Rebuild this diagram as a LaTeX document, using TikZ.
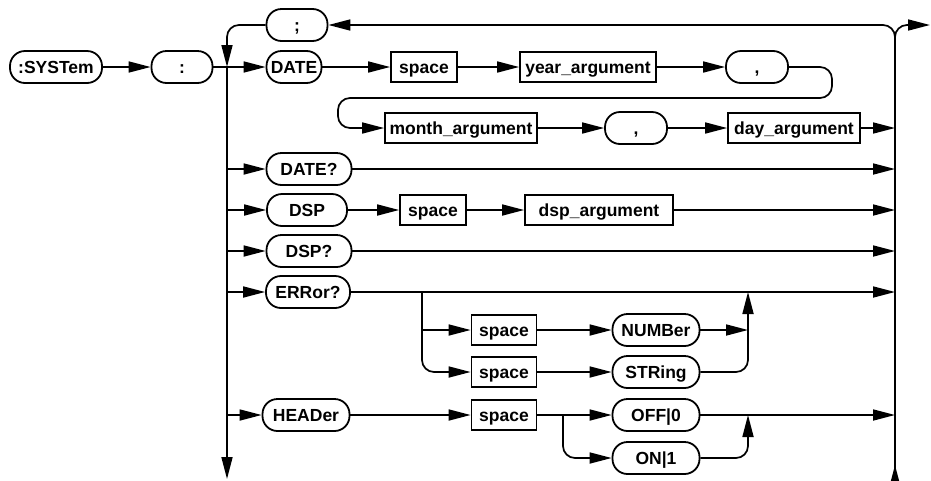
\documentclass[tikz,border=0pt]{standalone}
\usepackage{fontspec}
\setmainfont{Liberation Sans}
\usetikzlibrary{arrows.meta}
\begin{document}
\begin{tikzpicture}[x=1pt,y=-1pt,
  every node/.style={font=\bfseries\fontsize{17.5}{20}\selectfont, inner sep=0pt,
    text height=12.5pt, text depth=0pt},
  kw/.style={draw, line width=1.8pt, rounded corners=15pt, minimum height=32pt},
  arg/.style={draw, line width=1.8pt, minimum height=30pt},
  flow/.style={line width=1.7pt},
  go/.style={flow, -{Triangle[length=22pt,width=11pt]}},
  curvy/.style={rounded corners=12pt}]
\useasboundingbox (0,0) rectangle (931,480);

% bus lines and junctions
\coordinate (lbtop) at (227,67);
\coordinate (lbbot) at (227,479);
\coordinate (rbtop) at (895,25);
\coordinate (rbbot) at (895,480);
\coordinate (rbexit) at (930,25);
\coordinate (loopR) at (832,98);
\coordinate (loopL) at (338,128);
\coordinate (eb) at (422,292);
\coordinate (ej) at (748,292);
\coordinate (hb) at (563,415);
\coordinate (hj) at (748,415);

% keywords and arguments
\node[kw, minimum width=92pt] (sys) at (56,67) {:SYSTem};
\node[kw, minimum width=61pt] (colon) at (182,67) {:};
\node[kw, minimum width=61pt] (semi) at (297,25) {;};
\node[kw, minimum width=55pt] (date) at (294,67) {DATE};
\node[arg, minimum width=66pt] (sp1) at (424,67) {space};
\node[arg, minimum width=136pt] (year) at (588,67) {year\_argument};
\node[kw, minimum width=62pt] (comma1) at (757,67) {,};
\node[arg, minimum width=152pt] (month) at (461,128) {month\_argument};
\node[kw, minimum width=62pt] (comma2) at (636,128) {,};
\node[arg, minimum width=132pt] (day) at (794,128) {day\_argument};
\node[kw, minimum width=85pt] (dateq) at (309,169) {DATE?};
\node[kw, minimum width=80pt] (dsp) at (307,210) {DSP};
\node[arg, minimum width=66pt] (sp2) at (433,210) {space};
\node[arg, minimum width=148pt] (dsparg) at (599,210) {dsp\_argument};
\node[kw, minimum width=85pt] (dspq) at (309,251) {DSP?};
\node[kw, minimum width=84pt] (err) at (308,292) {ERRor?};
\node[arg, minimum width=65pt] (sp3) at (504,330) {space};
\node[kw, minimum width=87pt] (number) at (656,330) {NUMBer};
\node[arg, minimum width=65pt] (sp4) at (504,372) {space};
\node[kw, minimum width=87pt] (string) at (656,372) {STRing};
\node[kw, minimum width=87pt] (header) at (306,415) {HEADer};
\node[arg, minimum width=65pt] (sp5) at (504,415) {space};
\node[kw, minimum width=87pt] (off) at (656,415) {OFF|0};
\node[kw, minimum width=87pt] (on) at (656,458) {ON|1};

% left bus
\draw[go, curvy] (semi.west) -| (lbtop);
\draw[go] (lbtop) -- (lbbot);

% right bus, loop back and exit
\draw[go] (rbbot) -- ++(0,-15);
\draw[go, curvy] (895,470) |- (semi.east);
\draw[go, curvy] (895,50) |- (rbexit);

% entry
\draw[go] (sys) -- (colon);
\draw[go] (colon) -- (date);

% DATE
\draw[go] (date) -- (sp1);
\draw[go] (sp1) -- (year);
\draw[go] (year) -- (comma1);
\draw[go, curvy] (comma1.east) -| (loopR) -| (loopL) -- (month.west);
\draw[go] (month) -- (comma2);
\draw[go] (comma2) -- (day);
\draw[go] (day.east) -- (day.east -| rbtop);

% DATE?
\draw[go] (dateq.west -| lbtop) -- (dateq.west);
\draw[go] (dateq.east) -- (dateq.east -| rbtop);

% DSP
\draw[go] (dsp.west -| lbtop) -- (dsp.west);
\draw[go] (dsp) -- (sp2);
\draw[go] (sp2) -- (dsparg);
\draw[go] (dsparg.east) -- (dsparg.east -| rbtop);

% DSP?
\draw[go] (dspq.west -| lbtop) -- (dspq.west);
\draw[go] (dspq.east) -- (dspq.east -| rbtop);

% ERRor?
\draw[go] (err.west -| lbtop) -- (err.west);
\draw[go] (err.east) -- (err.east -| rbtop);
\draw[go] (sp3.west -| eb) -- (sp3.west);
\draw[go, curvy] (eb) |- (sp4.west);
\draw[go] (sp3) -- (number);
\draw[go] (sp4) -- (string);
\draw[go] (number.east) -- (number.east -| ej);
\draw[go, curvy] (string.east) -| (ej);

% HEADer
\draw[go] (header.west -| lbtop) -- (header.west);
\draw[go] (header) -- (sp5);
\draw[go] (sp5) -- (off);
\draw[go, curvy] (hb) |- (on.west);
\draw[go, curvy] (on.east) -| (hj);
\draw[go] (off.east) -- (off.east -| rbtop);
\end{tikzpicture}
\end{document}
